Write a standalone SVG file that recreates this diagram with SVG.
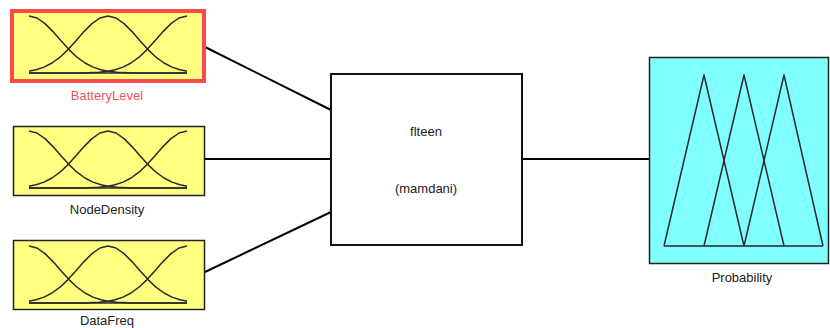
<svg xmlns="http://www.w3.org/2000/svg" xmlns:xlink="http://www.w3.org/1999/xlink" width="830" height="328" viewBox="0 0 830 328">
<style>
.in{fill:#FFFF80;stroke:#222;stroke-width:1.5}
.mf{fill:none;stroke:#2a2a2a;stroke-width:1.5;stroke-linejoin:round}
.lbl{font-family:"Liberation Sans",Arial,sans-serif;font-size:13px;fill:#222;text-anchor:middle}
.con{stroke:#000;stroke-width:2;fill:none}
</style>
<defs>
<g id="gauss">
<polyline class="mf" points="29,16 37,18 45,23.6 53,31.6 61,40.7 69,49.6 77,57.2 85,63 93,67.1 101,69.8 108,71.2 117,72.2 133,72.9 187,73"/>
<polyline class="mf" points="29,71.2 36,69.8 44,67.1 52,63 60,57.2 68,49.6 76,40.7 84,31.6 92,23.6 100,18 108,16 116,18 124,23.6 132,31.6 140,40.7 148,49.6 156,57.2 164,63 172,67.1 180,69.8 187,71.2"/>
<polyline class="mf" points="187,16 179,18 171,23.6 163,31.6 155,40.7 147,49.6 139,57.2 131,63 123,67.1 115,69.8 108,71.2 99,72.2 83,72.9 29,73"/>
<line class="mf" x1="29" y1="73" x2="187" y2="73"/>
</g>
</defs>
<g id="connectors">
<line class="con" x1="205" y1="47" x2="331" y2="110"/>
<line class="con" x1="205" y1="159" x2="331" y2="159"/>
<line class="con" x1="205" y1="272" x2="331" y2="212"/>
<line class="con" x1="522" y1="159" x2="649" y2="159"/>
</g>
<g id="BatteryLevel">
<rect x="12" y="11" width="192" height="70" fill="#FFFF80" stroke="#FF4A4A" stroke-width="4"/>
<use xlink:href="#gauss"/>
<text class="lbl" x="107" y="100" style="fill:#F05555">BatteryLevel</text>
</g>
<g id="NodeDensity">
<rect class="in" x="13.5" y="126.5" width="191" height="69"/>
<use xlink:href="#gauss" transform="translate(0,115)"/>
<text class="lbl" x="107" y="214">NodeDensity</text>
</g>
<g id="DataFreq">
<rect class="in" x="13.5" y="240.5" width="191" height="69"/>
<use xlink:href="#gauss" transform="translate(0,230)"/>
<text class="lbl" x="107" y="324.5">DataFreq</text>
</g>
<g id="fiteen">
<rect x="331" y="74" width="191" height="171" fill="#fff" stroke="#111" stroke-width="2"/>
<text class="lbl" x="426" y="136">flteen</text>
<text class="lbl" x="426" y="193">(mamdani)</text>
</g>
<g id="Probability">
<rect x="649.5" y="57.5" width="179" height="206" fill="#80FFFF" stroke="#222" stroke-width="1.5"/>
<polyline class="mf" points="664,246 704,75 744,246"/>
<polyline class="mf" points="704,246 744,75 784,246"/>
<polyline class="mf" points="744,246 784,75 823,246"/>
<line class="mf" x1="664" y1="246" x2="823" y2="246"/>
<text class="lbl" x="742" y="282">Probability</text>
</g>
</svg>
